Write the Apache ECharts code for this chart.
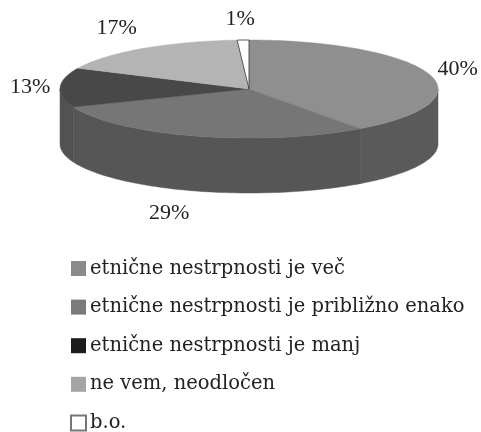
<!DOCTYPE html>
<html><head><meta charset="utf-8">
<style>html,body{margin:0;padding:0;background:#fff}#c{width:481px;height:432px;filter:blur(0.5px)}</style>
<script src="https://cdn.jsdelivr.net/npm/echarts@6/dist/echarts.min.js"></script>
</head><body><div id="c"></div>
<script>
const categories = ['etnične nestrpnosti je več','etnične nestrpnosti je približno enako','etnične nestrpnosti je manj','ne vem, neodločen','b.o.'];
const percents = [40, 29, 13, 17, 1];
const topColors = ['#8f8f8f','#767676','#484848','#b4b4b4','#ffffff'];
const sideColors = ['#5a5a5a','#565656','#525252','#707070','#aaaaaa'];
const legendColors = ['#8a8a8a','#7a7a7a','#1c1c1c','#a4a4a4','#ffffff'];
const labelOffsets = [[29,-5],[-27,77],[-30,0],[-26,-20],[-3,-21]];

const G = {cx:249, cy:89, rx:189, ry:49, depth:55};
const total = percents.reduce((a,b)=>a+b,0);
function pt(deg, dy){ const r=deg*Math.PI/180; return [G.cx+G.rx*Math.sin(r), G.cy-G.ry*Math.cos(r)+(dy||0)]; }
function arc(a,b,dy){ const n=Math.max(2,Math.ceil(Math.abs(b-a)/1.5)); const out=[]; for(let i=0;i<=n;i++) out.push(pt(a+(b-a)*i/n,dy)); return out; }

function makeRender(idx){
  return function(params, api){
    const before = percents.slice(0,idx).reduce((a,b)=>a+b,0);
    const a0 = before/total*360, a1 = (before+api.value(0))/total*360;
    const children = [];
    const w0=Math.max(a0,90), w1=Math.min(a1,270);
    if(w1>w0){
      children.push({type:'polygon',shape:{points:arc(w0,w1,0).concat(arc(w1,w0,G.depth))},
        style:{fill:sideColors[idx],stroke:sideColors[idx],lineWidth:0.5}});
    }
    children.push({type:'polygon',z2:10,shape:{points:[[G.cx,G.cy]].concat(arc(a0,a1,0))},
      style:{fill:topColors[idx],stroke:idx===4?'#333':topColors[idx],lineWidth:idx===4?0.8:0.5}});
    const m=(a0+a1)/2, p=pt(m,0), o=labelOffsets[idx];
    children.push({type:'text',z2:20,style:{x:p[0]+o[0],y:p[1]+o[1],text:percents[idx]+'%',
      font:'22px "Liberation Serif"',fill:'#222',align:'center',verticalAlign:'middle'}});
    return {type:'group',children};
  };
}
const chart = echarts.init(document.getElementById('c'),null,{renderer:'canvas'});
chart.setOption({
  animation:false,
  backgroundColor:'#fff',
  legend:{orient:'vertical',left:70,top:258.5,height:190,padding:0,itemWidth:15,itemHeight:15,itemGap:18.6,icon:'rect',selectedMode:false,
    data:categories,
    textStyle:{fontFamily:'"DejaVu Serif"',fontSize:19.5,color:'#222',lineHeight:18,padding:[0,0,0,-1]}},
  series:categories.map((name,i)=>({
    type:'custom',name,coordinateSystem:'none',
    renderItem:makeRender(i),
    data:[[percents[i]]],
    itemStyle:{color:legendColors[i],borderColor:i===4?'#777':legendColors[i],borderWidth:i===4?1:0},
    silent:true,z:i===4?3:2
  }))
});
</script></body></html>
